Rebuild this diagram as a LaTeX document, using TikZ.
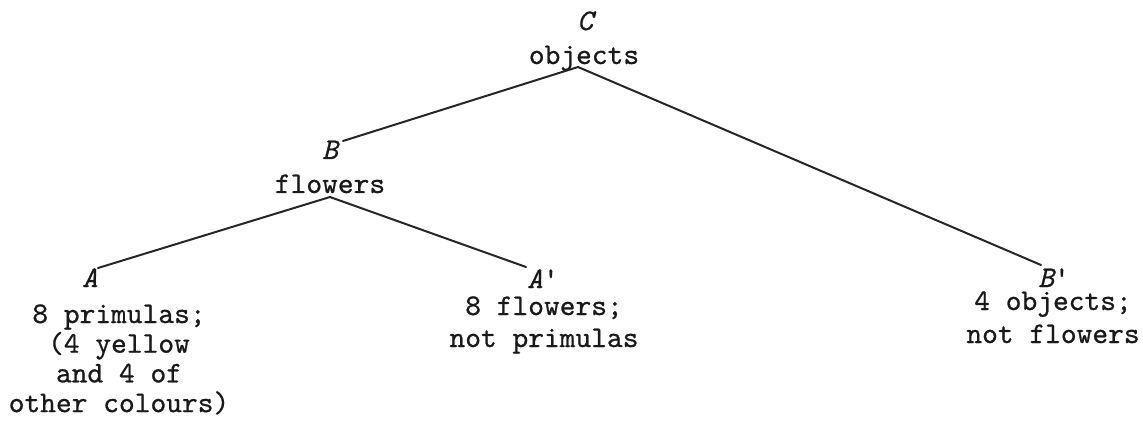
\documentclass[tikz,border=0pt]{standalone}
\usepackage{fontspec}
% typewriter face, slightly heavier as if struck on a ribbon
\newfontfamily\twfont{lmmono10-regular.otf}[
  FakeBold=0.7,
  ItalicFont=lmmono10-italic.otf,
  ItalicFeatures={FakeBold=0.7}]
\newcommand\diagfont{\fontsize{30}{29.7}\selectfont\twfont}
\begin{document}
\begin{tikzpicture}[x=1pt,y=-1pt,
  lbl/.style={font=\diagfont,inner sep=0pt,anchor=base,text=black!90},
  setname/.style={font=\diagfont\itshape,inner sep=0pt,anchor=base,text=black!90},
  edge/.style={line width=2pt,line cap=round,draw=black!85}]
\useasboundingbox (0,0) rectangle (1143,422);

% set names and their descriptions
\node[setname] (C) at (585,30) {C};
\node[lbl] (objects) at (584,64) {objects};
\node[setname] (B) at (330,159) {B};
\node[lbl] (flowers) at (330,193) {flowers};
\node[setname] (A) at (90,287) {A};
\node[setname] (Ap) at (543,288) {A\upshape\textquotesingle};
\node[setname] (Bp) at (1054,287) {B\upshape\textquotesingle};

% A: one line per node, typed lines about 29.7 apart
\node[lbl] (A1) at (119,323)   {8 primulas;};
\node[lbl] (A2) at (119,352.7) {(4 yellow};
\node[lbl] (A3) at (119,382.4) {and 4 of};
\node[lbl] (A4) at (119,412.1) {other colours)};
% A'
\node[lbl] (Ap1) at (544,315) {8 flowers;};
\node[lbl] (Ap2) at (544,347) {not primulas};
% B'
\node[lbl] (Bp1) at (1053,310) {4 objects;};
\node[lbl] (Bp2) at (1053,343) {not flowers};

% branch points
\coordinate (C-foot) at (578,67);
\coordinate (B-head) at (343,141);
\coordinate (Bp-head) at (1041,265);
\coordinate (B-foot) at (330,197);
\coordinate (A-head) at (98,268);
\coordinate (Ap-head) at (526,267);

% tree branches
\draw[edge] (B-head) -- (C-foot) -- (Bp-head);
\draw[edge] (A-head) -- (B-foot) -- (Ap-head);
\end{tikzpicture}
\end{document}
